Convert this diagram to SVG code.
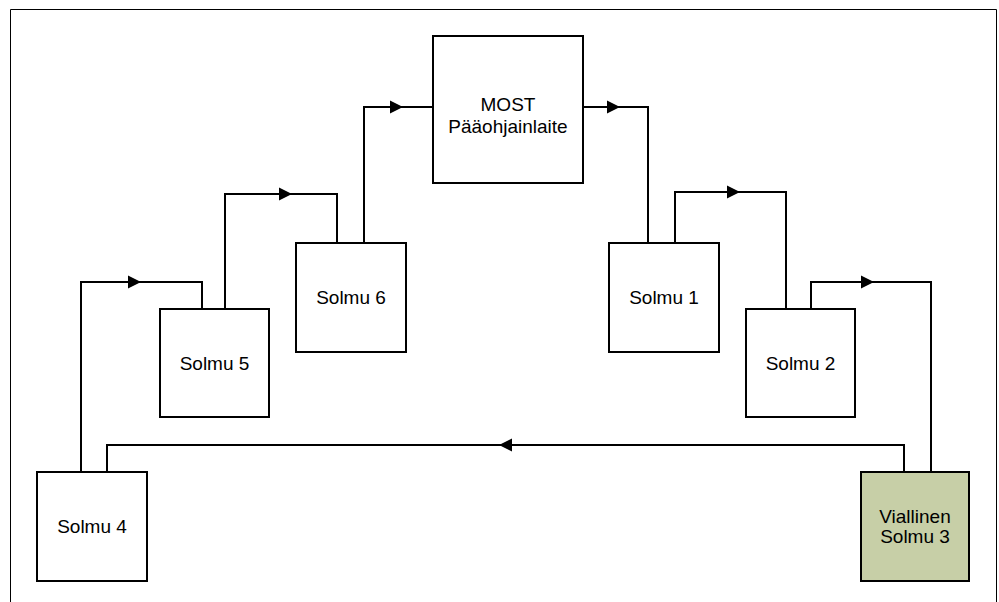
<svg xmlns="http://www.w3.org/2000/svg" xmlns:xlink="http://www.w3.org/1999/xlink" width="999" height="602" viewBox="0 0 999 602">
  <style>
    .node rect { fill: #ffffff; stroke: #000000; stroke-width: 2; }
    .node.faulty rect { fill: #c7cfa7; }
    .node text { font-family: "Liberation Sans", Arial, sans-serif; font-size: 19px; fill: #000000; text-anchor: middle; }
    .frame { fill: none; stroke: #000000; stroke-width: 1; }
    #connectors polyline { fill: none; stroke: #000000; stroke-width: 2; }
    #connectors use { fill: #000000; }
  </style>
  <defs>
    <!-- filled arrowhead, tip at the origin, pointing right -->
    <path id="ah" d="M0,0 L-13,-6.5 L-13,6.5 Z"/>
  </defs>

  <rect width="999" height="602" fill="#ffffff"/>
  <!-- page frame (open at the bottom) -->
  <path class="frame" d="M10.5,602 V9.5 H996.5 V602"/>

  <g id="connectors">
    <!-- Solmu 4 -> Solmu 5 -->
    <polyline points="81,472 81,282 202,282 202,309"/>
    <use xlink:href="#ah" transform="translate(141,282)"/>
    <!-- Solmu 5 -> Solmu 6 -->
    <polyline points="225,309 225,194 337,194 337,243"/>
    <use xlink:href="#ah" transform="translate(292,194)"/>
    <!-- Solmu 6 -> MOST -->
    <polyline points="364,243 364,107 433,107"/>
    <use xlink:href="#ah" transform="translate(403,107)"/>
    <!-- MOST -> Solmu 1 -->
    <polyline points="583,107 648,107 648,243"/>
    <use xlink:href="#ah" transform="translate(620,107)"/>
    <!-- Solmu 1 -> Solmu 2 -->
    <polyline points="675,243 675,192 786,192 786,309"/>
    <use xlink:href="#ah" transform="translate(740,192)"/>
    <!-- Solmu 2 -> Solmu 3 -->
    <polyline points="811,309 811,282 931,282 931,472"/>
    <use xlink:href="#ah" transform="translate(874,282)"/>
    <!-- Solmu 3 -> Solmu 4 (return path) -->
    <polyline points="904,472 904,445 107,445 107,472"/>
    <use xlink:href="#ah" transform="translate(499,445) rotate(180)"/>
  </g>

  <g id="most" class="node">
    <rect x="433" y="36" width="150" height="147"/>
    <text x="508" y="111">MOST</text>
    <text x="508" y="132.5">Pääohjainlaite</text>
  </g>
  <g id="solmu6" class="node">
    <rect x="296" y="243" width="110" height="109"/>
    <text x="351" y="304">Solmu 6</text>
  </g>
  <g id="solmu5" class="node">
    <rect x="160" y="309" width="109" height="108"/>
    <text x="214.5" y="370">Solmu 5</text>
  </g>
  <g id="solmu4" class="node">
    <rect x="37" y="472" width="110" height="109"/>
    <text x="92" y="533">Solmu 4</text>
  </g>
  <g id="solmu1" class="node">
    <rect x="609" y="243" width="110" height="109"/>
    <text x="664" y="304">Solmu 1</text>
  </g>
  <g id="solmu2" class="node">
    <rect x="746" y="309" width="109" height="108"/>
    <text x="800.5" y="370">Solmu 2</text>
  </g>
  <g id="solmu3" class="node faulty">
    <rect x="861" y="472" width="108" height="109"/>
    <text x="915" y="523">Viallinen</text>
    <text x="915" y="543">Solmu 3</text>
  </g>
</svg>
